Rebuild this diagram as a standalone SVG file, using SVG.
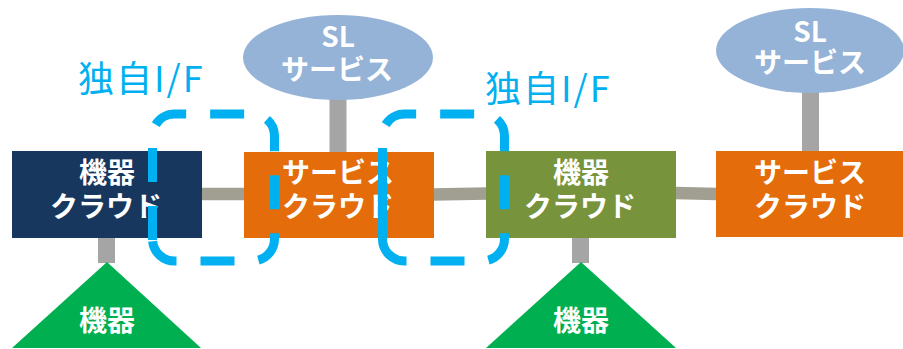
<svg xmlns="http://www.w3.org/2000/svg" width="903" height="349" viewBox="0 0 903 349">
  <style>
    .lbl { font-family: "Noto Sans CJK JP", "Noto Sans", "Liberation Sans", sans-serif; font-weight: 700; font-size: 28px; fill: #FFFFFF; text-anchor: middle; }
    .if { font-family: "Noto Sans CJK JP", "Noto Sans", "Liberation Sans", sans-serif; font-weight: 400; font-size: 36px; letter-spacing: 2px; fill: #00B0F0; }
    .vcon { stroke: #A5A5A5; stroke-width: 17; fill: none; }
    .hcon { stroke: #A19F91; stroke-width: 12.5; fill: none; }
    .dash { fill: none; stroke: #00B0F0; stroke-width: 9; }
  </style>
  <rect width="903" height="349" fill="#FFFFFF"/>

  <g id="connectors">
    <line class="vcon" x1="338" y1="98" x2="338" y2="153"/>
    <line class="vcon" x1="810.5" y1="91" x2="810.5" y2="152"/>
    <line class="vcon" x1="106.5" y1="237" x2="106.5" y2="263"/>
    <line class="vcon" x1="580.5" y1="237" x2="580.5" y2="263"/>
    <line class="hcon" x1="201" y1="194" x2="245" y2="194"/>
    <line class="hcon" x1="433" y1="194.5" x2="487" y2="193.5"/>
    <line class="hcon" x1="675" y1="193" x2="717" y2="194"/>
  </g>

  <g id="sl-service-1">
    <ellipse cx="338" cy="57.5" rx="95" ry="42.5" fill="#95B3D7"/>
    <text class="lbl" x="338" y="47">SL</text>
    <text class="lbl" x="337" y="80">サービス</text>
  </g>

  <g id="sl-service-2">
    <ellipse cx="810" cy="50.5" rx="94" ry="42.5" fill="#95B3D7"/>
    <text class="lbl" x="810" y="42">SL</text>
    <text class="lbl" x="810" y="73">サービス</text>
  </g>

  <g id="device-cloud-1">
    <rect x="12" y="151" width="190" height="87" fill="#17375E"/>
    <text class="lbl" x="107" y="183">機器</text>
    <text class="lbl" x="106" y="217">クラウド</text>
  </g>

  <g id="service-cloud-1">
    <rect x="244" y="152" width="190" height="86" fill="#E46C0A"/>
    <text class="lbl" x="338" y="183">サービス</text>
    <text class="lbl" x="338" y="217">クラウド</text>
  </g>

  <g id="device-cloud-2">
    <rect x="486" y="151" width="190" height="87" fill="#77933C"/>
    <text class="lbl" x="581" y="183">機器</text>
    <text class="lbl" x="580" y="217">クラウド</text>
  </g>

  <g id="service-cloud-2">
    <rect x="716" y="151" width="187" height="86" fill="#E46C0A"/>
    <text class="lbl" x="810" y="183">サービス</text>
    <text class="lbl" x="810" y="217">クラウド</text>
  </g>

  <g id="device-1">
    <polygon points="107,262 12,348 201,348" fill="#00B050"/>
    <text class="lbl" x="107" y="331">機器</text>
  </g>

  <g id="device-2">
    <polygon points="581,262 486,348 676,348" fill="#00B050"/>
    <text class="lbl" x="581" y="331">機器</text>
  </g>

  <g id="interface-1">
    <path class="dash" stroke-dasharray="34 24" d="M 152.5 240 V 136 A 22 22 0 0 1 174.5 114 H 252.5 A 22 22 0 0 1 274.5 136 V 239 A 22 22 0 0 1 252.5 261 H 174.5 A 22 22 0 0 1 152.5 239 Z"/>
    <text class="if" x="78" y="92">独自I/F</text>
  </g>

  <g id="interface-2">
    <path class="dash" stroke-dasharray="92 24 34 24 34 24 34 24 34 24 34 24 34 24 60" d="M 382.5 240 V 136 A 22 22 0 0 1 404.5 114 H 482.5 A 22 22 0 0 1 504.5 136 V 239 A 22 22 0 0 1 482.5 261 H 404.5 A 22 22 0 0 1 382.5 239 Z"/>
    <text class="if" x="485" y="102">独自I/F</text>
  </g>
</svg>
